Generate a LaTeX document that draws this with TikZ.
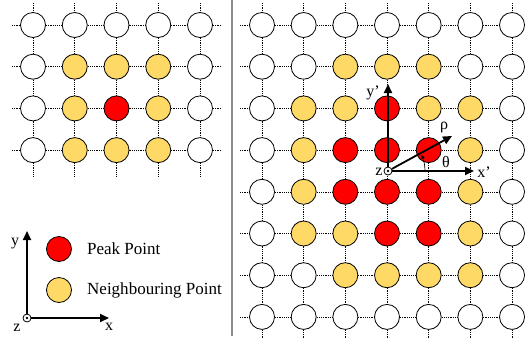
\documentclass[tikz,border=0pt]{standalone}
\usepackage{fontspec}
\setmainfont{Liberation Serif}
\usetikzlibrary{arrows.meta}
\definecolor{peakred}{HTML}{FF0000}
\definecolor{nbyellow}{HTML}{FFD966}
\definecolor{sepgray}{HTML}{8C8C8C}
\begin{document}
\begin{tikzpicture}[x=1pt,y=-1pt,
  pt/.style={circle,draw=black,line width=0.8pt,minimum size=25pt,inner sep=0pt},
  wp/.style={pt,fill=white},
  yp/.style={pt,fill=nbyellow},
  rp/.style={pt,fill=peakred},
  gridline/.style={draw=black,line width=0.6pt,dash pattern=on 1.2pt off 1pt},
  axisarrow/.style={line width=1.8pt,-{Triangle[length=9pt,width=8pt]}},
  origin/.style={circle,draw=black,line width=0.8pt,fill=white,minimum size=8pt,inner sep=0pt},
  lbl/.style={font=\fontsize{16}{16}\selectfont,inner sep=0pt},
  legend/.style={font=\fontsize{17}{17}\selectfont,inner sep=0pt,anchor=west},
]
\useasboundingbox (0,0) rectangle (526,341);

% ---------- left grid ----------
\foreach \row [count=\j from 0] in {{wp,wp,wp,wp,wp},{wp,yp,yp,yp,wp},{wp,yp,rp,yp,wp},{wp,yp,yp,yp,wp}}{
  \foreach \s [count=\i from 0] in \row {
    \node[\s] (L-\i-\j) at (33+41.75*\i, 25+41.7*\j) {};
  }
}
\foreach \j in {0,...,3}{
  \coordinate (LW-\j) at (12, 25+41.7*\j);
  \coordinate (LE-\j) at (221, 25+41.7*\j);
  \draw[gridline] (LW-\j) -- (L-0-\j);
  \draw[gridline] (L-4-\j) -- (LE-\j);
  \foreach \i [evaluate=\i as \ni using int(\i+1)] in {0,...,3}{
    \draw[gridline] (L-\i-\j) -- (L-\ni-\j);
  }
}
\foreach \i in {0,...,4}{
  \coordinate (LN-\i) at (33+41.75*\i, 3);
  \coordinate (LS-\i) at (33+41.75*\i, 178);
  \draw[gridline] (LN-\i) -- (L-\i-0);
  \draw[gridline] (L-\i-3) -- (LS-\i);
  \foreach \j [evaluate=\j as \nj using int(\j+1)] in {0,...,2}{
    \draw[gridline] (L-\i-\j) -- (L-\i-\nj);
  }
}

% ---------- separator ----------
\coordinate (sepT) at (232,0);
\coordinate (sepB) at (232,336);
\draw[sepgray,line width=2pt] (sepT) -- (sepB);

% ---------- right grid ----------
\foreach \row [count=\j from 0] in {
  {wp,wp,wp,wp,wp,wp,wp},
  {wp,wp,yp,yp,yp,wp,wp},
  {wp,yp,yp,rp,yp,yp,wp},
  {wp,yp,rp,rp,rp,yp,wp},
  {wp,yp,rp,rp,rp,yp,wp},
  {wp,yp,yp,rp,rp,yp,wp},
  {wp,wp,yp,yp,yp,yp,wp},
  {wp,wp,wp,wp,wp,wp,wp}}{
  \foreach \s [count=\i from 0] in \row {
    \node[\s] (R-\i-\j) at (262+41.67*\i, 25+41.7*\j) {};
  }
}
\foreach \j in {0,...,7}{
  \coordinate (RW-\j) at (240, 25+41.7*\j);
  \draw[gridline] (RW-\j) -- (R-0-\j);
  \foreach \i [evaluate=\i as \ni using int(\i+1)] in {0,...,5}{
    \draw[gridline] (R-\i-\j) -- (R-\ni-\j);
  }
}
\foreach \i in {0,...,6}{
  \coordinate (RN-\i) at (262+41.67*\i, 3);
  \coordinate (RS-\i) at (262+41.67*\i, 338);
  \draw[gridline] (RN-\i) -- (R-\i-0);
  \draw[gridline] (R-\i-7) -- (RS-\i);
  \foreach \j [evaluate=\j as \nj using int(\j+1)] in {0,...,6}{
    \draw[gridline] (R-\i-\j) -- (R-\i-\nj);
  }
}

% ---------- right local axes ----------
\node[origin] (o2) at (388,171) {};
\fill (o2.center) circle (1.3pt);
\coordinate (yt2) at (388,84);
\coordinate (xt2) at (474,171);
\coordinate (rt2) at (452,136);
\draw[axisarrow] (o2) -- (yt2);
\draw[axisarrow] (o2) -- (xt2);
\draw[axisarrow] (o2) -- (rt2);
\coordinate (arcS) at (425,171);
\draw[line width=0.7pt,-{Triangle[length=4pt,width=3.5pt]}] (arcS) arc[start angle=0,end angle=-26,radius=37];
\node[lbl] (ylab2) at (373,93) {y'};
\node[lbl] (xlab2) at (484,172) {x'};
\node[lbl] (zlab2) at (379,172) {z};
\node[lbl] (rholab) at (444,127) {ρ};
\node[lbl] (thlab) at (446,162) {θ};

% ---------- legend ----------
\node[rp] (peak) at (59,249) {};
\node[yp] (nb) at (59,290) {};
\node[legend] (peaktxt) at (87,249) {Peak Point};
\node[legend] (nbtxt) at (87,290) {Neighbouring Point};

\node[origin] (o1) at (27,318) {};
\fill (o1.center) circle (1.3pt);
\coordinate (yt1) at (27,231);
\coordinate (xt1) at (109,318);
\draw[axisarrow] (o1) -- (yt1);
\draw[axisarrow] (o1) -- (xt1);
\node[lbl] (ylab1) at (15,244) {y};
\node[lbl] (xlab1) at (109,327) {x};
\node[lbl] (zlab1) at (17,328) {z};
\end{tikzpicture}
\end{document}
